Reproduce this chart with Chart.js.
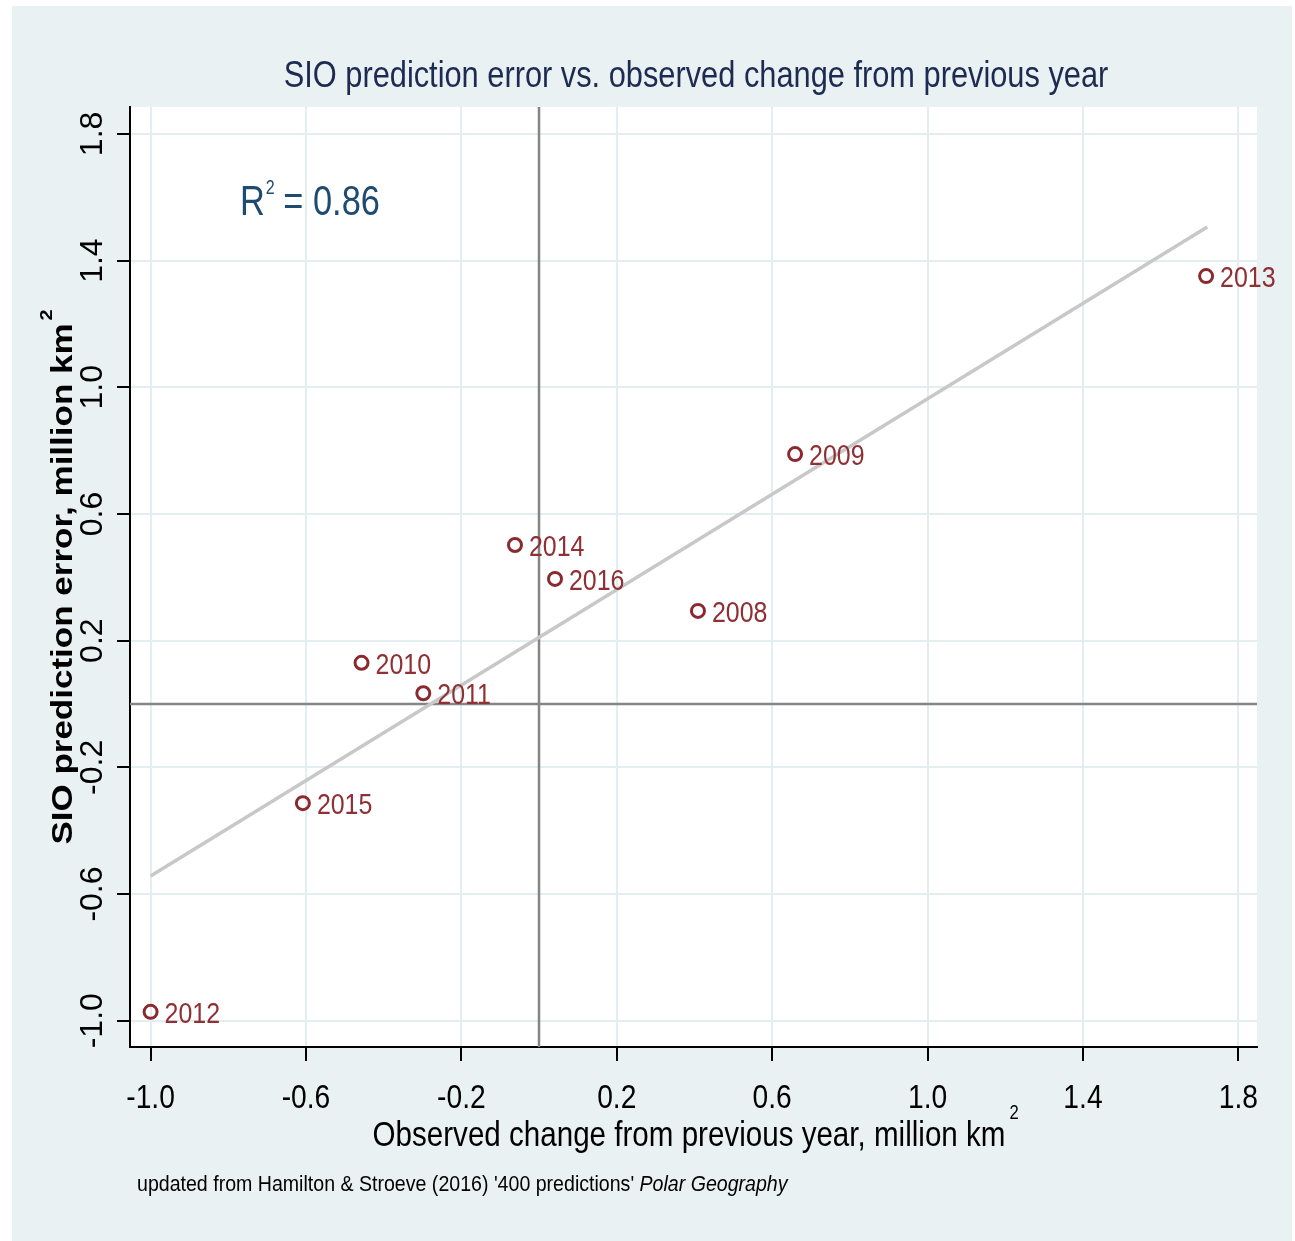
<!DOCTYPE html>
<html>
<head>
<meta charset="utf-8">
<title>SIO prediction error vs. observed change from previous year</title>
<script src="https://cdn.jsdelivr.net/npm/chart.js@4.4.1/dist/chart.umd.min.js"></script>
<style>
  html, body { margin: 0; padding: 0; background: #ffffff; }
  #wrap { width: 1295px; height: 1241px; position: relative; }
  canvas { display: block; }
</style>
</head>
<body>
<div id="wrap"><canvas id="chart" width="1295" height="1241"></canvas></div>
<script>
// Sea-ice outlook: prediction error against the observed year-to-year change
const years = ['2008', '2009', '2010', '2011', '2012', '2013', '2014', '2015', '2016'];
const observedChange = [0.409, 0.659, -0.457, -0.298, -1.000, 1.717, -0.062, -0.608, 0.041];
const predictionError = [0.294, 0.789, 0.130, 0.034, -0.972, 1.351, 0.502, -0.313, 0.395];

// End points of the fitted regression line
const fitX = [-1.00, 1.72];
const fitY = [-0.543, 1.506];

const xTickValues = [-1.0, -0.6, -0.2, 0.2, 0.6, 1.0, 1.4, 1.8];
const yTickValues = [-1.0, -0.6, -0.2, 0.2, 0.6, 1.0, 1.4, 1.8];
const rSquared = '0.86';

const titleText = 'SIO prediction error vs. observed change from previous year';
const xTitleText = 'Observed change from previous year, million km';
const yTitleText = 'SIO prediction error, million km';
const noteText = "updated from Hamilton & Stroeve (2016) '400 predictions' ";
const noteItalic = 'Polar Geography';

const SANS = "'Liberation Sans', Arial, 'DejaVu Sans', sans-serif";
const SQUEEZE = 0.83;   // condensed look for horizontal text

const PANEL_BG = '#e9f1f3';
const GRID = '#e4edf0';
const MARKER = '#8b2a2e';
const LABEL = '#8e3034';

const points = years.map((y, i) => ({ x: observedChange[i], y: predictionError[i] }));
const fitLine = fitX.map((x, i) => ({ x: x, y: fitY[i] }));

// Draw text horizontally condensed; returns the drawn width
function drawCondensed(ctx, text, x, y, font, squeeze, align) {
  ctx.save();
  ctx.font = font;
  const w = ctx.measureText(text).width * squeeze;
  let left = x;
  if (align === 'center') left = x - w / 2;
  else if (align === 'right') left = x - w;
  ctx.translate(left, y);
  ctx.scale(squeeze, 1);
  ctx.textAlign = 'left';
  ctx.fillText(text, 0, 0);
  ctx.restore();
  return w;
}

// Page backdrop, panel and white plot region
const backdrop = {
  id: 'backdrop',
  beforeDraw(chart) {
    const { ctx, chartArea: a } = chart;
    ctx.save();
    ctx.fillStyle = '#ffffff';
    ctx.fillRect(0, 0, chart.width, chart.height);
    ctx.fillStyle = PANEL_BG;
    ctx.fillRect(12, 6, 1280, 1235);
    ctx.fillStyle = '#ffffff';
    ctx.fillRect(a.left, a.top, a.right - a.left, a.bottom - a.top);
    ctx.restore();
  }
};

// Zero reference lines on both axes
const zeroLines = {
  id: 'zeroLines',
  beforeDatasetsDraw(chart) {
    const { ctx, chartArea: a, scales } = chart;
    const x0 = Math.round(scales.x.getPixelForValue(0));
    const y0 = Math.round(scales.y.getPixelForValue(0));
    ctx.save();
    ctx.strokeStyle = '#858585';
    ctx.lineWidth = 2.5;
    ctx.beginPath();
    ctx.moveTo(x0, a.top);
    ctx.lineTo(x0, a.bottom);
    ctx.moveTo(a.left, y0);
    ctx.lineTo(a.right, y0);
    ctx.stroke();
    ctx.restore();
  }
};

// Year labels beside each marker
const yearLabels = {
  id: 'yearLabels',
  afterDatasetsDraw(chart) {
    const { ctx } = chart;
    const meta = chart.getDatasetMeta(1);
    ctx.save();
    ctx.fillStyle = LABEL;
    ctx.textBaseline = 'alphabetic';
    meta.data.forEach((pt, i) => {
      drawCondensed(ctx, years[i], pt.x + 14, pt.y + 11, '29px ' + SANS, 0.86, 'left');
    });
    ctx.restore();
  }
};

// Title, R-squared note, x tick labels, axis titles and source line
const texts = {
  id: 'texts',
  afterDraw(chart) {
    const { ctx, chartArea: a, scales } = chart;
    ctx.save();
    ctx.textBaseline = 'alphabetic';

    // Title
    ctx.fillStyle = '#1d2b52';
    drawCondensed(ctx, titleText, 696, 87, '36px ' + SANS, 0.855, 'center');

    // R-squared
    ctx.fillStyle = '#1f4b70';
    let rx = a.left + 110;
    const ry = a.top + 108;
    rx += drawCondensed(ctx, 'R', rx, ry, '43px ' + SANS, 0.8, 'left');
    rx += drawCondensed(ctx, '2', rx + 1, ry - 21, '20px ' + SANS, 0.8, 'left');
    drawCondensed(ctx, ' = ' + rSquared, rx, ry, '43px ' + SANS, 0.8, 'left');

    // X tick labels, placed from the axis' own ticks
    ctx.fillStyle = '#000000';
    const sx = scales.x;
    sx.ticks.forEach(t => {
      const px = sx.getPixelForValue(t.value);
      drawCondensed(ctx, t.value.toFixed(1), px, 1108, '34px ' + SANS, SQUEEZE, 'center');
    });

    // X axis title
    const xw = drawCondensed(ctx, xTitleText, 689, 1146, '35px ' + SANS, 0.845, 'center');
    drawCondensed(ctx, '2', 689 + xw / 2 + 4, 1119, '20px ' + SANS, SQUEEZE, 'left');

    // Y axis title, rotated
    ctx.save();
    ctx.translate(72, 584);
    ctx.scale(SQUEEZE, 1);
    ctx.rotate(-Math.PI / 2);
    ctx.font = 'bold 35px ' + SANS;
    ctx.textAlign = 'center';
    const yw = ctx.measureText(yTitleText).width;
    ctx.fillText(yTitleText, 0, 0);
    ctx.font = 'bold 20px ' + SANS;
    ctx.textAlign = 'left';
    ctx.fillText('2', yw / 2 + 3, -24);
    ctx.restore();

    // Source note
    const nw = drawCondensed(ctx, noteText, 137, 1191, '22.5px ' + SANS, 0.87, 'left');
    drawCondensed(ctx, noteItalic, 137 + nw, 1191, 'italic 22.5px ' + SANS, 0.87, 'left');

    ctx.restore();
  }
};

const fmt = v => Number(v).toFixed(1);

new Chart(document.getElementById('chart'), {
  type: 'scatter',
  data: {
    datasets: [
      {
        label: 'Fitted values',
        data: fitLine,
        showLine: true,
        borderColor: '#c8c8c8',
        borderWidth: 3.5,
        pointRadius: 0,
        fill: false,
        order: 2
      },
      {
        label: 'SIO prediction error',
        data: points,
        showLine: false,
        pointStyle: 'circle',
        pointRadius: 6.5,
        pointBorderWidth: 3,
        pointBorderColor: MARKER,
        pointBackgroundColor: 'rgba(0,0,0,0)',
        order: 1
      }
    ]
  },
  options: {
    responsive: false,
    animation: false,
    layout: { padding: { left: 0, top: 107, right: 38, bottom: 0 } },
    plugins: {
      legend: { display: false },
      tooltip: { enabled: false },
      title: { display: false }
    },
    scales: {
      x: {
        type: 'linear',
        min: -1.053,
        max: 1.848,
        afterBuildTicks: s => { s.ticks = xTickValues.map(v => ({ value: v })); },
        afterFit: s => { s.height = 194; },
        grid: {
          color: GRID,
          lineWidth: 2,
          tickColor: '#000000',
          tickWidth: 2,
          tickLength: 14,
          drawTicks: true
        },
        border: { display: true, color: '#000000', width: 2 },
        ticks: {
          autoSkip: false,
          maxRotation: 0,
          minRotation: 0,
          padding: 6,
          color: 'rgba(0,0,0,0)',
          font: { family: SANS, size: 28 },
          callback: v => fmt(v)
        }
      },
      y: {
        type: 'linear',
        min: -1.083,
        max: 1.885,
        afterBuildTicks: s => { s.ticks = yTickValues.map(v => ({ value: v })); },
        afterFit: s => { s.width = 130; },
        grid: {
          color: GRID,
          lineWidth: 2,
          tickColor: '#000000',
          tickWidth: 2,
          tickLength: 13,
          drawTicks: true
        },
        border: { display: true, color: '#000000', width: 2 },
        ticks: {
          autoSkip: false,
          minRotation: 90,
          maxRotation: 90,
          crossAlign: 'center',
          padding: -4,
          color: '#000000',
          font: { family: SANS, size: 32 },
          callback: v => fmt(v)
        }
      }
    }
  },
  plugins: [backdrop, zeroLines, yearLabels, texts]
});
</script>
</body>
</html>
